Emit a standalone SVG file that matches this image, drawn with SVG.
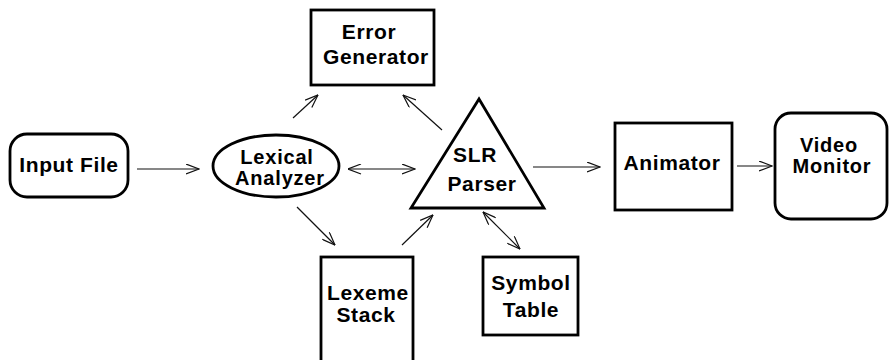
<svg xmlns="http://www.w3.org/2000/svg" width="890" height="360" viewBox="0 0 890 360">
  <defs>
    <style>
      .shape { fill: #fff; stroke: #000; stroke-width: 2.8; }
      .label { font-family: "Liberation Sans", Arial, sans-serif; font-weight: bold; font-size: 21px; letter-spacing: 0.6px; fill: #000; text-anchor: middle; }
      .tight { font-size: 20px; letter-spacing: 0.8px; }
      .edge { fill: none; stroke: #111; stroke-width: 1.2; }
    </style>
    <marker id="arrow" viewBox="0 0 14 11" markerWidth="14" markerHeight="11" refX="13.5" refY="5.5" orient="auto-start-reverse" markerUnits="userSpaceOnUse">
      <path d="M0.5,0.5 L13.5,5.5 L0.5,10.5" fill="none" stroke="#111" stroke-width="1.2"/>
    </marker>
  </defs>

  <rect width="890" height="360" fill="#fff"/>

  <!-- nodes -->
  <g id="input-file">
    <rect class="shape" x="10" y="134" width="118" height="63" rx="17" ry="17"/>
    <text class="label" x="69" y="172">Input File</text>
  </g>

  <g id="lexical-analyzer">
    <ellipse class="shape" cx="276" cy="166" rx="63" ry="31"/>
    <text class="label tight" x="277" y="164">Lexical</text>
    <text class="label tight" x="280" y="185">Analyzer</text>
  </g>

  <g id="error-generator">
    <rect class="shape" x="311" y="10" width="123" height="75"/>
    <text class="label" x="369" y="39">Error</text>
    <text class="label" x="376" y="64">Generator</text>
  </g>

  <g id="slr-parser">
    <polygon class="shape" points="479,99 411,208 544,208" stroke-linejoin="miter"/>
    <text class="label" x="475" y="162">SLR</text>
    <text class="label" x="482" y="191">Parser</text>
  </g>

  <g id="lexeme-stack">
    <rect class="shape" x="321" y="257" width="92" height="110"/>
    <text class="label" x="368" y="300">Lexeme</text>
    <text class="label" x="366" y="322">Stack</text>
  </g>

  <g id="symbol-table">
    <rect class="shape" x="483" y="257" width="95" height="78"/>
    <text class="label" x="531" y="290">Symbol</text>
    <text class="label" x="531" y="317">Table</text>
  </g>

  <g id="animator">
    <rect class="shape" x="615" y="123" width="117" height="87"/>
    <text class="label" x="672" y="170">Animator</text>
  </g>

  <g id="video-monitor">
    <rect class="shape" x="775" y="113" width="112" height="106" rx="16" ry="16"/>
    <text class="label tight" x="829" y="152">Video</text>
    <text class="label tight" x="832" y="173">Monitor</text>
  </g>

  <!-- connectors -->
  <g id="connectors">
    <line class="edge" x1="137" y1="169" x2="199" y2="169" marker-end="url(#arrow)"/>
    <line class="edge" x1="348" y1="169" x2="415" y2="169" marker-start="url(#arrow)" marker-end="url(#arrow)"/>
    <line class="edge" x1="533" y1="167" x2="600" y2="167" marker-end="url(#arrow)"/>
    <line class="edge" x1="737" y1="166" x2="772" y2="166" marker-end="url(#arrow)"/>
    <line class="edge" x1="293" y1="118" x2="318" y2="95" marker-end="url(#arrow)"/>
    <line class="edge" x1="442" y1="130" x2="403" y2="95" marker-end="url(#arrow)"/>
    <line class="edge" x1="297" y1="207" x2="335" y2="245" marker-end="url(#arrow)"/>
    <line class="edge" x1="402" y1="245" x2="433" y2="215" marker-end="url(#arrow)"/>
    <line class="edge" x1="483" y1="212" x2="520" y2="249" marker-start="url(#arrow)" marker-end="url(#arrow)"/>
  </g>
</svg>
